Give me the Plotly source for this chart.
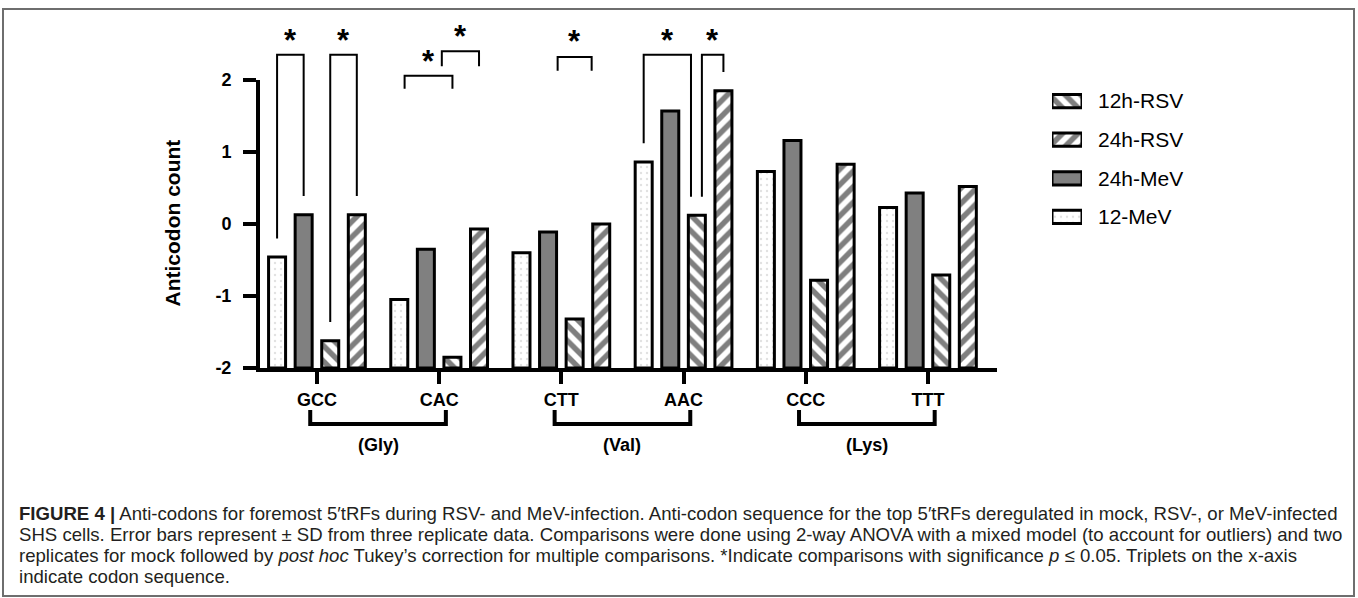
import plotly.graph_objects as go

# ---------------- data ----------------
categories = ["GCC", "CAC", "CTT", "AAC", "CCC", "TTT"]
amino_groups = ["(Gly)", "(Val)", "(Lys)"]
series_names = ["12-MeV", "24h-MeV", "12h-RSV", "24h-RSV"]
mev12 = [-0.46, -1.05, -0.40, 0.86, 0.73, 0.23]
mev24 = [0.13, -0.35, -0.11, 1.57, 1.16, 0.43]
rsv12 = [-1.62, -1.85, -1.32, 0.12, -0.78, -0.71]
rsv24 = [0.13, -0.07, 0.00, 1.85, 0.83, 0.52]
y_ticks = [-2, -1, 0, 1, 2]
y_tick_labels = ["-2", "-1", "0", "1", "2"]
legend_order = ["12h-RSV", "24h-RSV", "24h-MeV", "12-MeV"]

# significance comparisons: (category, left bar, right bar)
sig_tall = [(0, 0, 1), (0, 2, 3), (3, 0, 2), (3, 2, 3)]
sig_short = [(1, 0, 2), (1, 2, 3), (2, 1, 2)]

# ---------------- layout geometry (pixels) ----------------
W, H = 1358, 598
L, R, T, B = 260, 997, 80, 368
YMIN, YMAX = -2, 2
XMIN, XMAX = -0.466, 5.565
BARGAP, GROUPGAP = 0.13, 0.36
SLOT = (1 - BARGAP) / 4
FONT = "Arial, Liberation Sans, sans-serif"


def px_x(px):
    return px / W


def px_y(py):
    return 1 - py / H


def yp(v):
    py = B - (v - YMIN) / (YMAX - YMIN) * (B - T)
    return px_y(py)


def bar_x(cat, j):
    return cat + (j - 1.5) * SLOT


series_vals = [mev12, mev24, rsv12, rsv24]
OUT = dict(color="black", width=3)
markers = [
    dict(color="white",
         pattern=dict(shape=".", fgcolor="#c4c4c4", bgcolor="white", size=6, solidity=0.12),
         line=OUT),
    dict(color="#808080", line=OUT),
    dict(color="white",
         pattern=dict(shape="\\", fgcolor="black", bgcolor="white", size=11, solidity=0.5),
         line=OUT),
    dict(color="white",
         pattern=dict(shape="/", fgcolor="black", bgcolor="white", size=11, solidity=0.5),
         line=OUT),
]

fig = go.Figure()
for name, vals, mk in zip(series_names, series_vals, markers):
    fig.add_trace(go.Bar(
        x=list(range(len(categories))),
        y=[v - YMIN for v in vals],
        base=YMIN,
        name=name,
        marker=mk,
        xaxis="x", yaxis="y",
        showlegend=False,
    ))

# legend drawn as small horizontal bars on a side axis
for name, mk in zip(series_names, markers):
    fig.add_trace(go.Bar(
        x=[1], y=[legend_order.index(name)], orientation="h", width=0.34,
        name=name, marker=mk, xaxis="x2", yaxis="y2", showlegend=False,
        hoverinfo="skip",
    ))

shapes = []
annotations = []
line_sig = dict(color="black", width=2)
STAR_FONT = dict(size=31, color="black", family=FONT)

# tall brackets (legs reach down toward bar tops)
TOP_TALL = 2.35
for cat, a, b in sig_tall:
    xa = bar_x(cat, a)
    xb = bar_x(cat, b)
    if (cat, a, b) == (3, 0, 2):
        xb -= 0.22 * SLOT
    if (cat, a, b) == (3, 2, 3):
        xa += 0.19 * SLOT
    ya = series_vals[a][cat] + 0.26
    yb = series_vals[b][cat] + 0.26
    shapes.append(dict(type="path", xref="x", yref="paper",
                       path=f"M {xa},{yp(ya)} L {xa},{yp(TOP_TALL)} L {xb},{yp(TOP_TALL)} L {xb},{yp(yb)}",
                       line=line_sig))
    annotations.append(dict(x=(xa + xb) / 2, y=yp(2.55), xref="x", yref="paper", text="<b>*</b>",
                            showarrow=False, font=STAR_FONT, xanchor="center", yanchor="middle"))

# short brackets
short_specs = {(1, 0, 2): (0.2, 2.0, 2.06, 0.18, 2.26),
               (1, 2, 3): (1.6, 3.0, 2.40, 0.21, 2.61),
               (2, 1, 2): (1.36, 2.64, 2.32, 0.19, 2.53)}
for key in sig_short:
    fa, fb, top, leg, star = short_specs[key]
    cat = key[0]
    xa = bar_x(cat, fa)
    xb = bar_x(cat, fb)
    shapes.append(dict(type="path", xref="x", yref="paper",
                       path=f"M {xa},{yp(top - leg)} L {xa},{yp(top)} L {xb},{yp(top)} L {xb},{yp(top - leg)}",
                       line=line_sig))
    annotations.append(dict(x=(xa + xb) / 2, y=yp(star), xref="x", yref="paper", text="<b>*</b>",
                            showarrow=False, font=STAR_FONT, xanchor="center", yanchor="middle"))

# amino-acid group brackets under axis
for g, label in enumerate(amino_groups):
    x0 = 2 * g - 0.055
    x1 = 2 * g + 1 + 0.055
    shapes.append(dict(type="path", xref="x", yref="paper",
                       path=f"M {x0},{px_y(410)} L {x0},{px_y(424)} L {x1},{px_y(424)} L {x1},{px_y(410)}",
                       line=dict(color="black", width=4)))
    annotations.append(dict(x=2 * g + 0.5, y=px_y(445), xref="x", yref="paper", text=label,
                            showarrow=False, font=dict(size=18, color="black", family=FONT, weight="bold"),
                            xanchor="center", yanchor="middle"))

# y-axis title
annotations.append(dict(x=px_x(172), y=px_y(223.5), xref="paper", yref="paper", text="Anticodon count",
                        textangle=-90, showarrow=False,
                        font=dict(size=21, color="black", family=FONT, weight="bold"),
                        xanchor="center", yanchor="middle"))

# frame
shapes.append(dict(type="rect", xref="paper", yref="paper", x0=px_x(3), x1=px_x(1354),
                   y0=px_y(596), y1=px_y(9), line=dict(color="#6e6e6e", width=2)))

caption_lines = [
    "<b>FIGURE 4 |</b> Anti-codons for foremost 5′tRFs during RSV- and MeV-infection. Anti-codon sequence for the top 5′tRFs deregulated in mock, RSV-, or MeV-infected",
    "SHS cells. Error bars represent ± SD from three replicate data. Comparisons were done using 2-way ANOVA with a mixed model (to account for outliers) and two",
    "replicates for mock followed by <i>post hoc</i> Tukey’s correction for multiple comparisons. *Indicate comparisons with significance <i>p</i> ≤ 0.05. Triplets on the x-axis",
    "indicate codon sequence.",
]
for k, line in enumerate(caption_lines):
    annotations.append(dict(x=px_x(17), y=px_y(513 + 21.3 * k), xref="paper", yref="paper", text=line,
                            showarrow=False, font=dict(size=18.6, color="#231f20", family=FONT),
                            xanchor="left", yanchor="middle"))

fig.update_layout(
    width=W, height=H,
    margin=dict(l=0, r=0, t=0, b=0, pad=0, autoexpand=False),
    paper_bgcolor="white", plot_bgcolor="white",
    barmode="group", bargap=BARGAP, bargroupgap=GROUPGAP,
    font=dict(family=FONT, color="black"),
    showlegend=False,
    xaxis=dict(domain=[L / W, R / W], anchor="y", range=[XMIN, XMAX], automargin=False,
               tickvals=list(range(len(categories))), ticktext=categories,
               showline=True, linecolor="black", linewidth=4, ticks="outside", ticklen=12,
               tickwidth=4, tickcolor="black", showgrid=False, zeroline=False,
               tickfont=dict(size=18, family=FONT, color="black", weight="bold")),
    yaxis=dict(domain=[1 - B / H, 1 - T / H], anchor="x", range=[YMIN, YMAX], automargin=False,
               tickvals=y_ticks, ticktext=y_tick_labels,
               showline=True, linecolor="black", linewidth=4,
               ticks="outside", ticklen=13, tickwidth=4, tickcolor="black", showgrid=False,
               zeroline=False, ticklabelstandoff=8,
               tickfont=dict(size=18, family=FONT, color="black", weight="bold")),
    xaxis2=dict(domain=[1052 / W, 1082 / W], anchor="y2", range=[0, 1], visible=False,
                fixedrange=True, automargin=False),
    yaxis2=dict(domain=[1 - 236.25 / H, 1 - 81.75 / H], anchor="x2", range=[3.5, -0.5],
                side="right", tickvals=list(range(len(legend_order))), ticktext=legend_order,
                showline=False, showgrid=False, zeroline=False, ticks="", automargin=False,
                ticklabelstandoff=15, fixedrange=True,
                tickfont=dict(size=21, family=FONT, color="black")),
    shapes=shapes,
    annotations=annotations,
)

fig.write_html("out.html")
